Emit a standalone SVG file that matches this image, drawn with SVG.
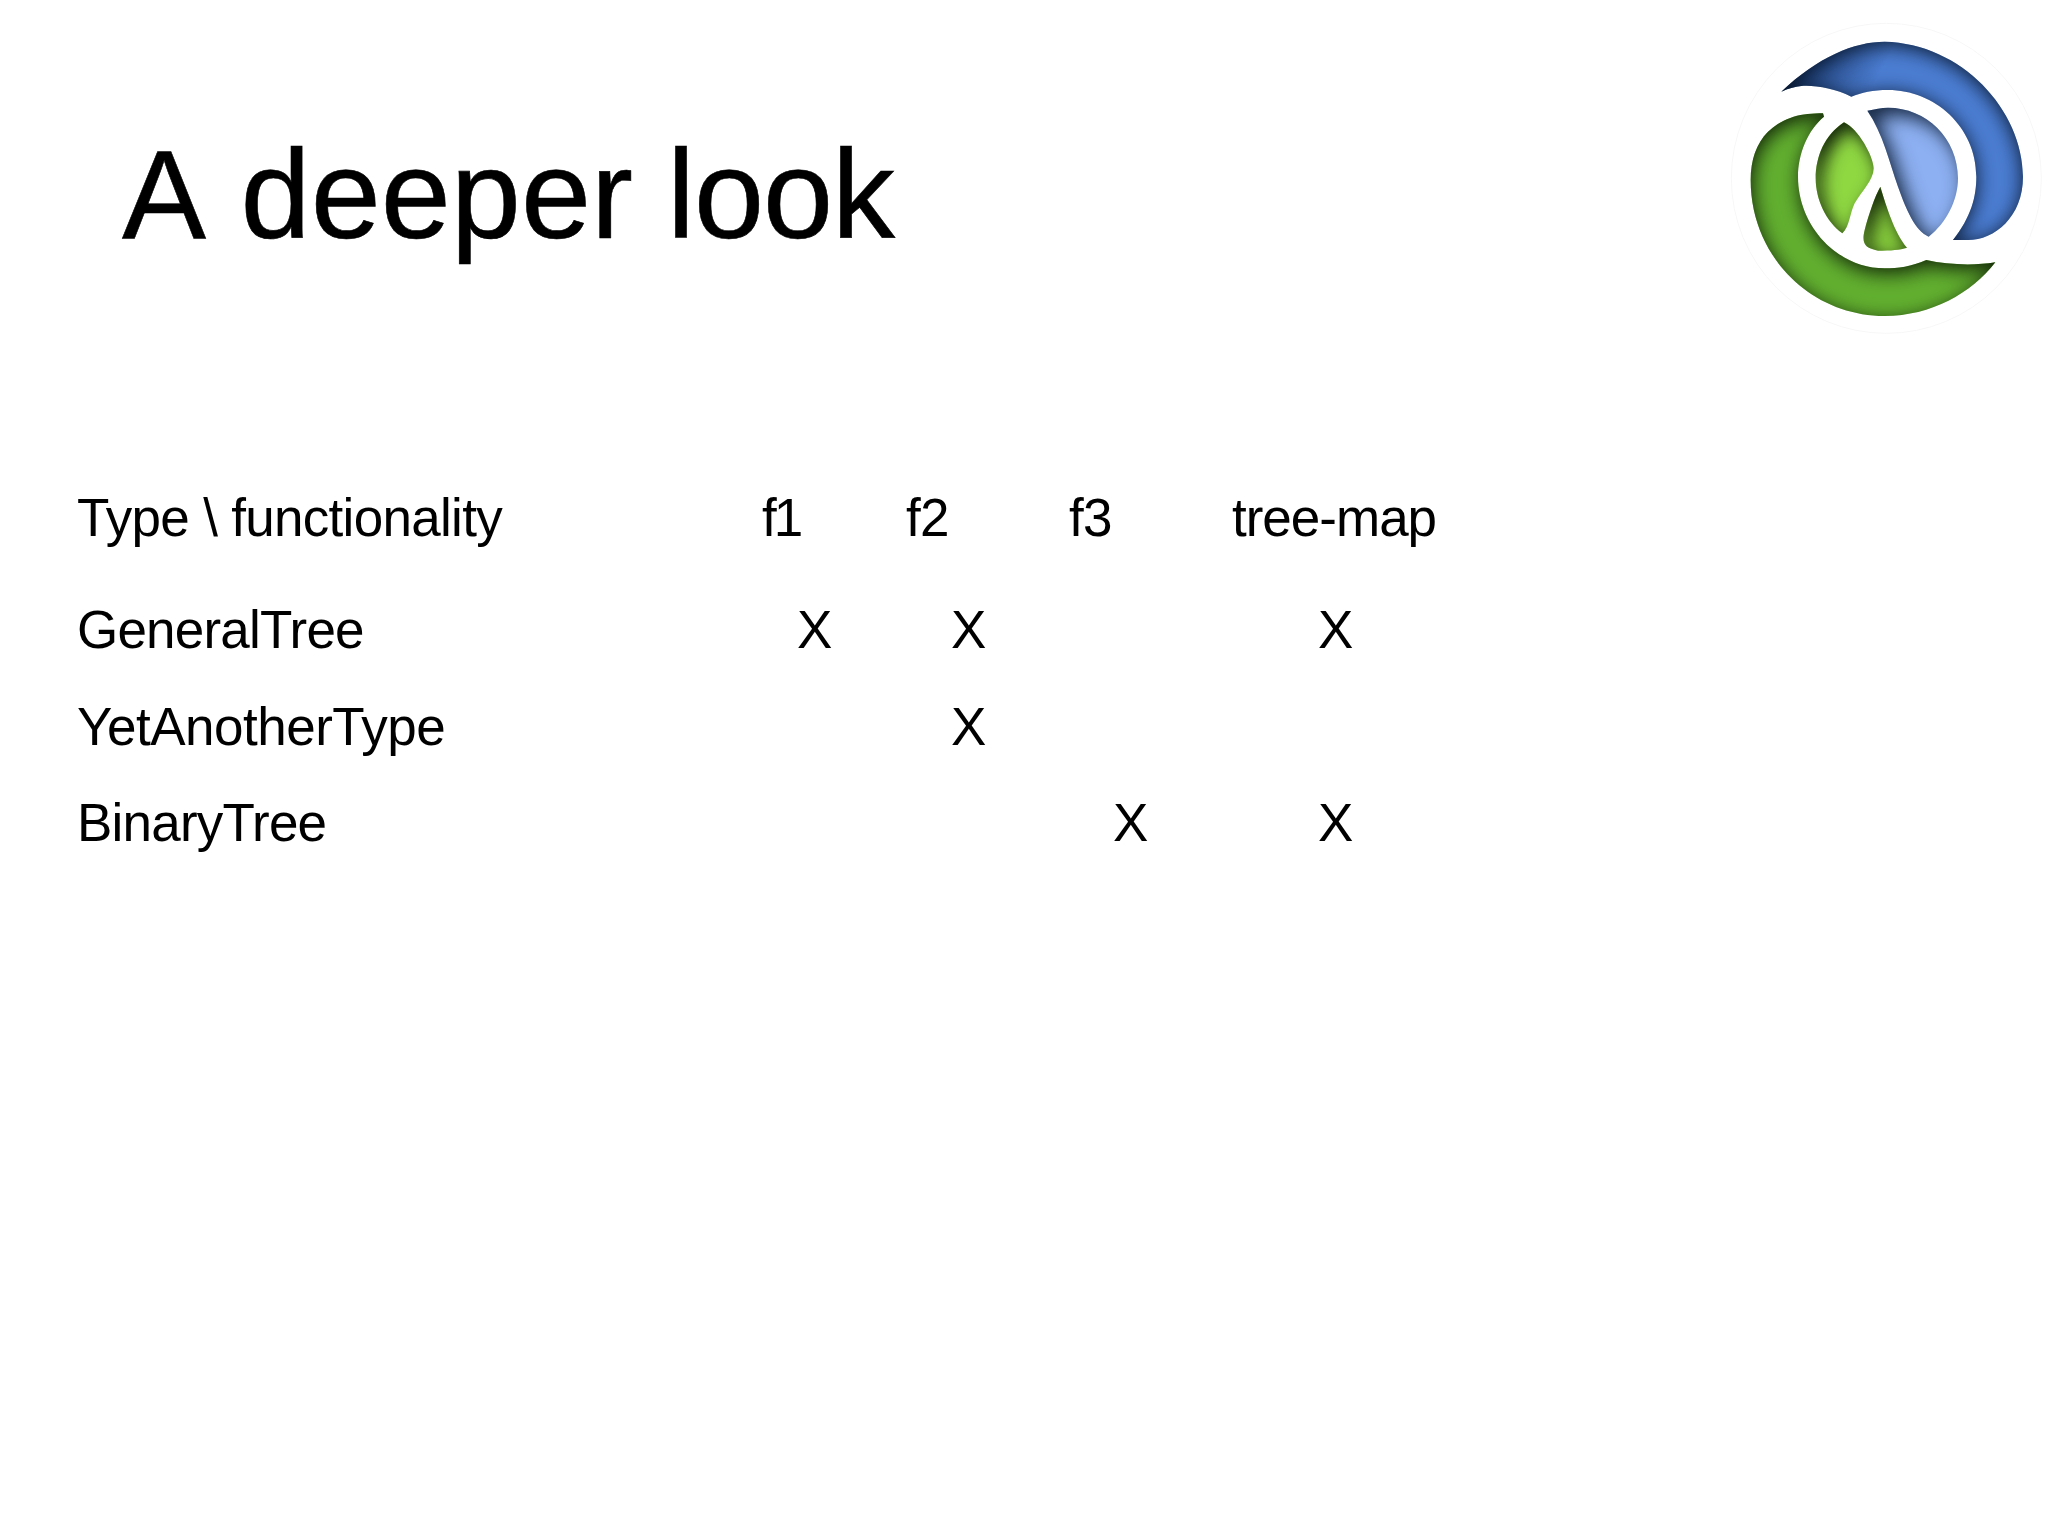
<svg xmlns="http://www.w3.org/2000/svg" width="2048" height="1536" viewBox="0 0 2048 1536">
<style>
text{font-family:"Liberation Sans",Arial,sans-serif;fill:#000}
.t{font-size:53px;letter-spacing:-.8px}
.h{font-size:126px;stroke:#000;stroke-width:.6px}
</style>
<defs>
<linearGradient id="gb" gradientUnits="userSpaceOnUse" x1="250" y1="170" x2="480" y2="290">
<stop offset="0" stop-color="#14305f"/><stop offset="1" stop-color="#4b7dd2"/>
</linearGradient>
<filter id="inA" x="-10%" y="-10%" width="120%" height="120%" color-interpolation-filters="sRGB">
<feComponentTransfer in="SourceAlpha" result="inv"><feFuncA type="table" tableValues="1 0"/></feComponentTransfer>
<feGaussianBlur in="inv" stdDeviation="30" result="b"/>
<feOffset in="b" dx="0" dy="8" result="o"/>
<feFlood flood-color="#061428" flood-opacity="0.95"/>
<feComposite in2="o" operator="in" result="s"/>
<feComposite in="s" in2="SourceAlpha" operator="in" result="s2"/>
<feMerge><feMergeNode in="SourceGraphic"/><feMergeNode in="s2"/></feMerge>
</filter>
<filter id="inC" x="-20%" y="-20%" width="140%" height="140%" color-interpolation-filters="sRGB">
<feComponentTransfer in="SourceAlpha" result="inv"><feFuncA type="table" tableValues="1 0"/></feComponentTransfer>
<feGaussianBlur in="inv" stdDeviation="28" result="b"/>
<feOffset in="b" dx="20" dy="22" result="o"/>
<feFlood flood-color="#0a1a30" flood-opacity="0.95"/>
<feComposite in2="o" operator="in" result="s"/>
<feComposite in="s" in2="SourceAlpha" operator="in" result="s2"/>
<feMerge><feMergeNode in="SourceGraphic"/><feMergeNode in="s2"/></feMerge>
</filter>
<filter id="inB" x="-10%" y="-10%" width="120%" height="120%" color-interpolation-filters="sRGB">
<feComponentTransfer in="SourceAlpha" result="inv"><feFuncA type="table" tableValues="1 0"/></feComponentTransfer>
<feGaussianBlur in="inv" stdDeviation="30" result="b"/>
<feOffset in="b" dx="6" dy="16" result="o"/>
<feFlood flood-color="#0c1a04" flood-opacity="0.95"/>
<feComposite in2="o" operator="in" result="s"/>
<feComposite in="s" in2="SourceAlpha" operator="in" result="s2"/>
<feMerge><feMergeNode in="SourceGraphic"/><feMergeNode in="s2"/></feMerge>
</filter>
<filter id="inD" x="-20%" y="-20%" width="140%" height="140%" color-interpolation-filters="sRGB">
<feComponentTransfer in="SourceAlpha" result="inv"><feFuncA type="table" tableValues="1 0"/></feComponentTransfer>
<feGaussianBlur in="inv" stdDeviation="26" result="b"/>
<feOffset in="b" dx="18" dy="20" result="o"/>
<feFlood flood-color="#0c1a04" flood-opacity="0.95"/>
<feComposite in2="o" operator="in" result="s"/>
<feComposite in="s" in2="SourceAlpha" operator="in" result="s2"/>
<feMerge><feMergeNode in="SourceGraphic"/><feMergeNode in="s2"/></feMerge>
</filter>
</defs>
<rect width="2048" height="1536" fill="#fff"/>
<text class="h" x="122" y="238">A <tspan dx="6.5">deeper</tspan> <tspan dx="-1" letter-spacing="-1">look</tspan></text>
<g id="table">
<text class="t" x="77" y="536" style="letter-spacing:-.7px">Type \ functionality</text>
<text class="t" x="762" y="536" style="letter-spacing:-3px">f1</text>
<text class="t" x="906" y="536">f2</text>
<text class="t" x="1069" y="536">f3</text>
<text class="t" x="1232" y="536" style="letter-spacing:-1px">tree-map</text>
<text class="t" x="77" y="648">GeneralTree</text>
<text class="t" x="797" y="648">X</text>
<text class="t" x="951" y="648">X</text>
<text class="t" x="1318" y="648">X</text>
<text class="t" x="77" y="745" style="letter-spacing:-.5px">YetAnotherType</text>
<text class="t" x="951" y="745">X</text>
<text class="t" x="77" y="841">BinaryTree</text>
<text class="t" x="1113" y="841">X</text>
<text class="t" x="1318" y="841">X</text>
</g>
<g id="logo" transform="translate(1708 0) scale(.33333)">
<circle cx="535" cy="535" r="465" fill="#fff" stroke="#f7f7f7" stroke-width="3"/>
<path filter="url(#inA)" fill="url(#gb)" d="M220 275C330 170 440 125 530 125C760 130 945 330 945 530C945 650 860 720 780 720L735 720C790 650 805 590 805 530C805 380 680 270 540 270C495 270 460 278 430 290C380 265 320 255 280 258C260 260 240 266 220 275Z"/>
<path filter="url(#inB)" fill="#62b030" d="M345 340C280 340 230 350 180 395C145 430 128 480 128 540C128 770 310 948 530 948C670 948 790 880 862 787C800 797 720 795 655 780C610 800 570 805 530 805C390 805 270 680 270 530C270 460 300 390 348 350Z"/>
<path filter="url(#inD)" fill="#8fd842" d="M408 367C350 405 323 470 323 535C323 600 355 665 403 700C425 680 425 640 440 610C460 575 497 540 497 505C497 470 450 385 408 367Z"/>
<path filter="url(#inD)" fill="#86cc3c" d="M517 560C500 590 480 650 470 690C460 730 470 745 510 752C550 752 575 750 597 743C560 700 535 620 517 560Z"/>
<path filter="url(#inC)" fill="#8db0f2" d="M478 332C500 328 520 323 540 323C655 323 750 415 750 535C750 600 715 670 662 710C620 690 595 630 570 560C545 490 525 400 478 332Z"/>
</g>
</svg>
